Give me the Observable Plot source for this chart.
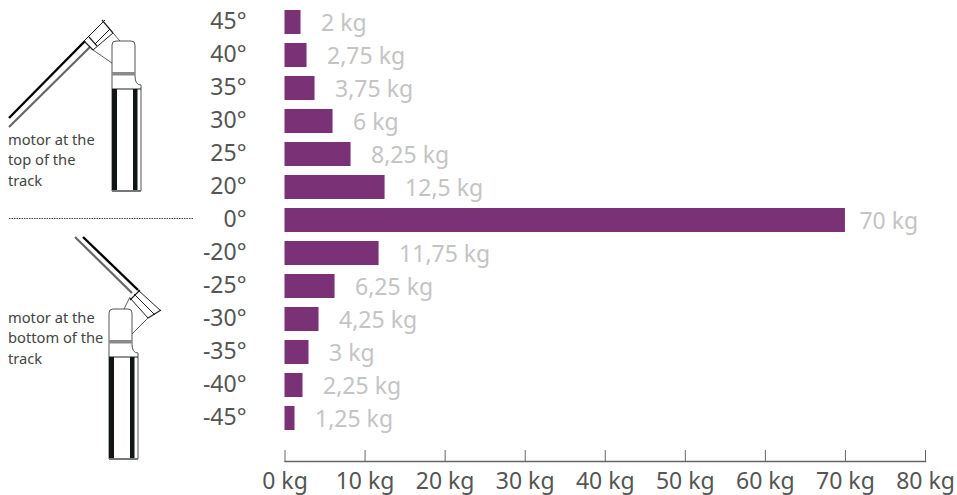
<!DOCTYPE html>
<html><head><meta charset="utf-8">
<script src="https://cdn.jsdelivr.net/npm/d3@7"></script>
<script src="https://cdn.jsdelivr.net/npm/@observablehq/plot@0.6"></script>
<style>html,body{margin:0;padding:0;background:#fff}svg{display:block}</style>
</head><body><div id="chart"></div>
<script>
const angles = ["45°","40°","35°","30°","25°","20°","0°","-20°","-25°","-30°","-35°","-40°","-45°"];
const loads = [2,2.75,3.75,6,8.25,12.5,70,11.75,6.25,4.25,3,2.25,1.25];
const loadLabels = ["2 kg","2,75 kg","3,75 kg","6 kg","8,25 kg","12,5 kg","70 kg","11,75 kg","6,25 kg","4,25 kg","3 kg","2,25 kg","1,25 kg"];
const xTicks = [0,10,20,30,40,50,60,70,80];
const captionTop = ["motor at the","top of the","track"];
const captionBottom = ["motor at the","bottom of the","track"];
const rows = angles.map((a,i)=>({angle:a,load:loads[i],label:loadLabels[i]}));
const FONT = "'Noto Sans', sans-serif";

function rail(g, dx, dy){
  const p = g.append("g").attr("transform",`translate(${dx},${dy})`);
  p.append("path").attr("d","M0 48V4Q0 0 4 0H19Q23 0 23 4V35Q23 44 29 44V150H0V48").attr("fill","#fff").attr("stroke","#555").attr("stroke-width",1);
  p.append("rect").attr("x",0).attr("y",31).attr("width",23).attr("height",3.5).attr("fill","#8a8a8a");
  p.append("line").attr("x1",0).attr("x2",29).attr("y1",48).attr("y2",48).attr("stroke","#222");
  p.append("rect").attr("x",0).attr("y",48).attr("width",5).attr("height",102).attr("fill","#101516");
  p.append("rect").attr("x",21).attr("y",48).attr("width",4.5).attr("height",102).attr("fill","#101516");
  p.append("rect").attr("x",0).attr("y",149).attr("width",29).attr("height",2).attr("fill","#777");
}
function seg(g,d,c,w){ return g.append("path").attr("d",d).attr("fill","none").attr("stroke",c).attr("stroke-width",w); }
function illustration(){
  const g = d3.create("svg:g");
  rail(g,112,41);
  seg(g,"M9 118L85 41","#000",2.4);
  seg(g,"M9 127L90 47","#666",2.2);
  seg(g,"M84 41L105 20M93 50L113 33M95 44L110 29","#222",1);
  seg(g,"M84 41L93 50M102 20L113 33M89 37L97 46","#222",1.2);
  seg(g,"M113 33L120 41M93 50L112 63","#333",.8);
  rail(g,109,309);
  seg(g,"M83 237L138 290","#000",2.4);
  seg(g,"M75 237L132 293","#666",2.2);
  seg(g,"M138 290L161 311M130 298L148 318M134 294L155 315","#222",1);
  seg(g,"M140 290L130 300M161 310L148 318","#222",1.2);
  seg(g,"M130 297L124 309M148 318L132 334","#333",.8);
  seg(g,"M9 218.5H193","#444",1).attr("stroke-dasharray","1.5 1");
  return g.node();
}
function captionMark(lines, baselines){
  return () => {
    const g = d3.create("svg:g").attr("font-family",FONT).attr("font-size",14.7).attr("fill","#444").attr("text-anchor","start");
    lines.forEach((t,i)=>g.append("text").attr("x",8).attr("y",baselines[i]).text(t));
    return g.node();
  };
}
const labelStyle = {x:"load",y:"angle",text:"label",textAnchor:"start",dy:1,fontSize:23,fill:"#c4c4c4"};
const chart = Plot.plot({
  width:957,height:495,marginLeft:284.5,marginRight:32,marginTop:0,marginBottom:34,
  style:{fontFamily:FONT,background:"#fff",overflow:"visible"},
  x:{domain:[0,80],label:null},
  y:{domain:angles,range:[5.5,434.5],paddingInner:9/33,paddingOuter:4.5/33,round:false,label:null},
  marks:[
    Plot.barX(rows,{x:"load",y:"angle",fill:"#7b3176"}),
    Plot.text(rows.filter(d=>d.load<70),{...labelStyle,dx:20}),
    Plot.text(rows.filter(d=>d.load>=70),{...labelStyle,dx:14}),
    Plot.axisY(angles,{tickSize:0,tickPadding:38.5,dy:-1,fontSize:23,fill:"#555",label:null}),
    Plot.axisX(xTicks,{anchor:"bottom",tickSize:-11,tickPadding:22,stroke:"#666",fontSize:23,fill:"#555",label:null,tickFormat:d=>d+" kg"}),
    Plot.frame({anchor:"bottom",stroke:"#666",strokeWidth:1.5}),
    illustration,
    captionMark(captionTop,[145,165,186]),
    captionMark(captionBottom,[323,343,364])
  ]
});
document.getElementById("chart").append(chart);
</script></body></html>
